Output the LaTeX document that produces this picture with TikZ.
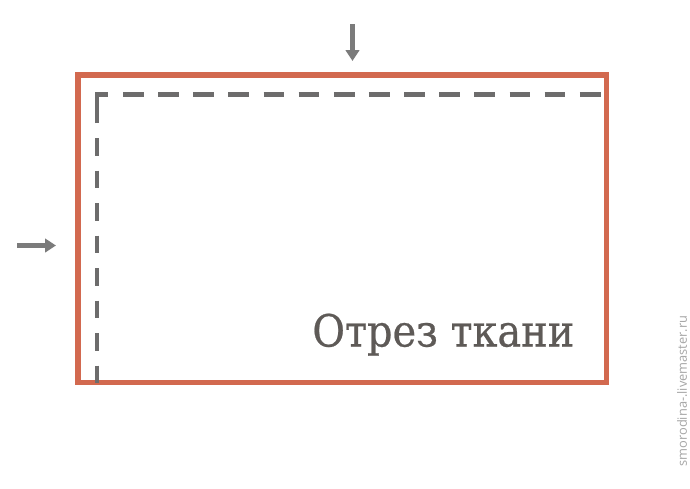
\documentclass[tikz,border=0pt]{standalone}
\usepackage{fontspec}
\newfontfamily\cutfont[FakeBold=0.5]{DejaVu Serif Condensed}
\newfontfamily\markfont{Open Sans}
\usetikzlibrary{arrows.meta,positioning}
\definecolor{cutred}{HTML}{D2694F}
\definecolor{seamgray}{HTML}{6D6C6C}
\definecolor{pointgray}{HTML}{7B7B7B}
\definecolor{textgray}{HTML}{5E5A57}
\definecolor{markgray}{HTML}{A6A6A6}

\begin{document}
\begin{tikzpicture}[x=0.02cm,y=-0.02cm,
    cutline/.style={cutred,line width=3.1pt},
    seam/.style={seamgray,line width=2.3pt},
    pointer/.style={pointgray,line width=2.5pt,-{Triangle[length=6.2pt,width=7.6pt]}}]
  \useasboundingbox[fill=white] (0,0) rectangle (690,488);
  \coordinate (nw) at (78,75);
  \coordinate (se) at (606.5,382.5);
  \coordinate (c0) at (97,94.5);
  \coordinate (h0) at (123,94.5);
  \coordinate (h1) at (606.5,94.5);
  \coordinate (v0) at (97,138);
  \coordinate (v1) at (97,382.5);
  \coordinate (t0) at (352.5,24);
  \coordinate (t1) at (352.5,61);
  \coordinate (l0) at (17,245.5);
  \coordinate (l1) at (56,245.5);
  \draw[cutline] (nw) rectangle (se);
  % seam allowance
  \draw[seam] (97,123) -- (c0) -- (107.5,94.5);
  \draw[seam,dash pattern=on 11.8pt off 8.2pt] (h0) -- (h1);
  \draw[seam,dash pattern=on 10.2pt off 8.3pt] (v0) -- (v1);
  \draw[pointer] (t0) -- (t1);
  \draw[pointer] (l0) -- (l1);
  \node[textgray,font=\cutfont\fontsize{25.2}{30}\selectfont,anchor=base west,inner sep=0pt]
    (label) at (312,346.5) {Отрез ткани};
  \node[markgray,font=\markfont\fontsize{7.3}{9}\selectfont,rotate=90,inner sep=0pt]
    (mark) at (682,391) {smorodina-.livemaster.ru};
\end{tikzpicture}
\end{document}
